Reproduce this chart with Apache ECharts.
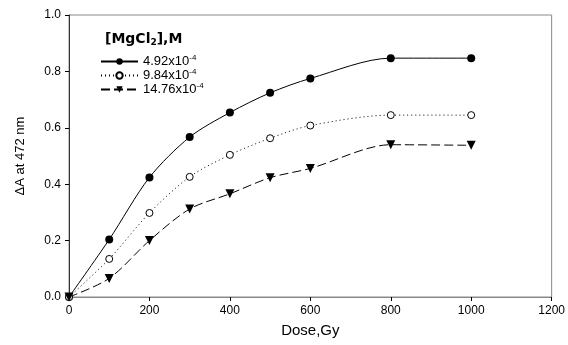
<!DOCTYPE html>
<html>
<head>
<meta charset="utf-8">
<script src="https://cdn.jsdelivr.net/npm/echarts@6/dist/echarts.min.js"></script>
<style>
  html, body { margin: 0; padding: 0; background: #fff; }
  #chart { width: 568px; height: 345px; }
</style>
</head>
<body>
<div id="chart"></div>
<script>
// dose values (Gy)
var dose = [0, 100, 200, 300, 400, 500, 600, 800, 1000]
// ΔA at 472 nm for each MgCl2 concentration
var conc1 = [0, 0.204, 0.424, 0.567, 0.654, 0.724, 0.775, 0.847, 0.847]
var conc2 = [0, 0.135, 0.298, 0.426, 0.504, 0.563, 0.608, 0.645, 0.645]
var conc3 = [0, 0.066, 0.2, 0.312, 0.366, 0.423, 0.456, 0.54, 0.538]
var seriesNames = ['4.92x10^-4', '9.84x10^-4', '14.76x10^-4']

function pairs(ys) {
  return dose.map(function (x, i) { return [x, ys[i]] })
}

var font = 'Liberation Sans, Arial, sans-serif'
var chart = echarts.init(document.getElementById('chart'))

var option = {
  animation: false,
  title: {
    text: '{b|[MgCl}{s|2}{b|],M}',
    left: 100,
    top: 26,
    textStyle: {
      rich: {
        b: { fontFamily: 'DejaVu Sans', fontSize: 14, fontWeight: 'bold', color: '#000' },
        s: { fontFamily: 'DejaVu Sans', fontSize: 9, fontWeight: 'bold', color: '#000', verticalAlign: 'bottom', padding: [7, 0, 0, 0] }
      }
    }
  },
  legend: {
    orient: 'vertical',
    left: 95,
    top: 49,
    itemWidth: 37,
    itemHeight: 8,
    itemGap: 0,
    data: seriesNames,
    formatter: function (name) {
      var p = name.split('^')
      return '{a|' + p[0] + '}{s|' + p[1] + '}'
    },
    textStyle: {
      rich: {
        a: { fontFamily: font, fontSize: 13, color: '#000', lineHeight: 15 },
        s: { fontFamily: font, fontSize: 8, color: '#000', verticalAlign: 'top', padding: [0, 0, 5, 0] }
      }
    }
  },
  grid: {
    left: 69,
    right: 16,
    top: 15,
    bottom: 48,
    show: true,
    borderColor: '#888',
    borderWidth: 1
  },
  xAxis: {
    type: 'value',
    min: 0,
    max: 1200,
    interval: 200,
    name: 'Dose,Gy',
    nameLocation: 'middle',
    nameGap: 26,
    nameTextStyle: { fontFamily: font, fontSize: 15, color: '#000' },
    axisLine: { lineStyle: { color: '#888' } },
    axisTick: { lineStyle: { color: '#000' }, length: 4 },
    axisLabel: {
      fontFamily: font, fontSize: 12, color: '#000', margin: 8,
      formatter: function (v) { return String(v) }
    },
    splitLine: { show: false }
  },
  yAxis: {
    type: 'value',
    min: 0,
    max: 1,
    interval: 0.2,
    name: 'ΔA at 472 nm',
    nameLocation: 'middle',
    nameGap: 42,
    nameTextStyle: { fontFamily: font, fontSize: 13, color: '#000' },
    axisLine: { show: true, lineStyle: { color: '#333' } },
    axisTick: { show: true, lineStyle: { color: '#000' }, length: 4 },
    axisLabel: {
      fontFamily: font, fontSize: 12, color: '#000', margin: 8,
      formatter: function (v) { return v.toFixed(1) }
    },
    splitLine: { show: false }
  },
  series: [
    {
      name: seriesNames[0],
      type: 'line',
      data: pairs(conc1),
      smooth: 0.3,
      symbol: 'circle',
      symbolSize: 8,
      itemStyle: { color: '#000' },
      lineStyle: { color: '#000', width: 1, type: 'solid' }
    },
    {
      name: seriesNames[1],
      type: 'line',
      data: pairs(conc2),
      smooth: 0.3,
      symbol: 'circle',
      symbolSize: 7,
      itemStyle: { color: '#fff', borderColor: '#000', borderWidth: 1 },
      lineStyle: { color: '#000', width: 1, type: [1, 3] }
    },
    {
      name: seriesNames[2],
      type: 'line',
      data: pairs(conc3),
      smooth: 0.3,
      symbol: 'triangle',
      symbolRotate: 180,
      symbolSize: 9,
      itemStyle: { color: '#000' },
      lineStyle: { color: '#000', width: 1, type: [9, 4] }
    }
  ]
}

chart.setOption(option)
</script>
</body>
</html>
